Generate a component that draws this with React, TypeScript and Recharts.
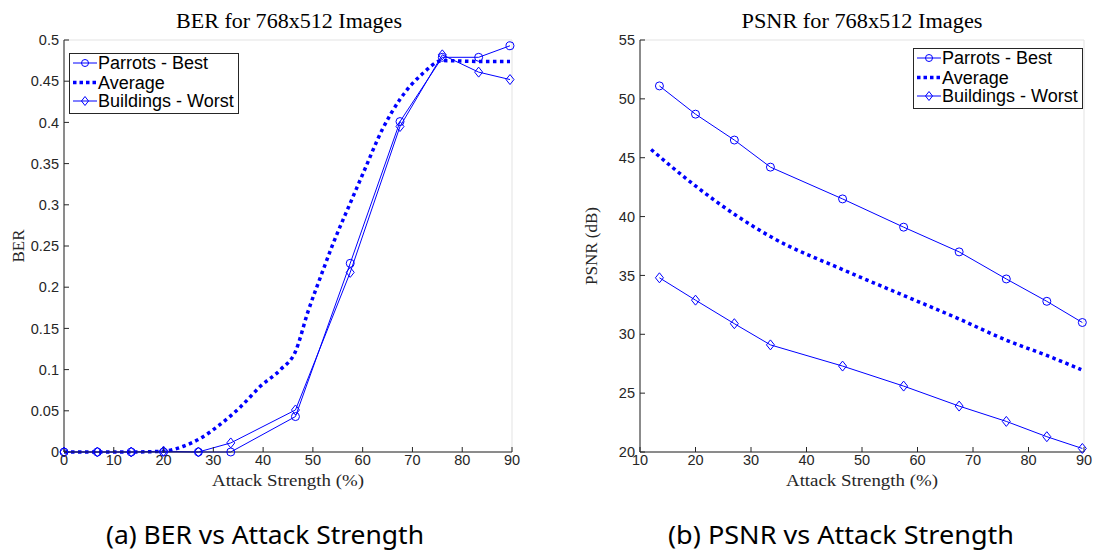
import React from 'react';
import { LineChart, Line, XAxis, YAxis, CartesianGrid, Legend } from 'recharts';

// ---------- data ----------
const berX = [0, 6.7, 13.5, 20, 27, 33.5, 46.5, 57.5, 67.5, 76, 83.3, 89.6];
const berParrots = [0, 0, 0, 0, 0, 0, 0.043, 0.229, 0.401, 0.479, 0.479, 0.493];
const berBuildings = [0, 0, 0, 0.001, 0, 0.011, 0.051, 0.218, 0.395, 0.482, 0.461, 0.452];
const berAvgX = [0, 6.7, 13.5, 20, 24, 27.5, 31.5, 35.5, 39.5, 43.5, 46.5, 49, 52, 54, 57.5, 60, 64, 67.5, 72, 76, 83.3, 89.6];
const berAvg = [0, 0, 0, 0.001, 0.007, 0.017, 0.034, 0.055, 0.08, 0.1, 0.122, 0.17, 0.22, 0.252, 0.302, 0.337, 0.392, 0.428, 0.459, 0.475, 0.474, 0.474];

const psnrX = [13.5, 20, 27, 33.5, 46.5, 57.5, 67.5, 76, 83.3, 89.7];
const psnrParrots = [51.1, 48.7, 46.5, 44.2, 41.5, 39.1, 37.0, 34.7, 32.8, 31.0];
const psnrBuildings = [34.8, 32.9, 30.9, 29.1, 27.3, 25.6, 23.9, 22.6, 21.3, 20.3];
const psnrAvgX = [12, 20, 27, 33.5, 46.5, 57.5, 67.5, 76, 83.3, 89.5];
const psnrAvg = [45.7, 42.6, 40.2, 38.3, 35.5, 33.3, 31.3, 29.5, 28.2, 27.0];

const berXTicks = [0, 10, 20, 30, 40, 50, 60, 70, 80, 90];
const berYTicks = [0, 0.05, 0.1, 0.15, 0.2, 0.25, 0.3, 0.35, 0.4, 0.45, 0.5];
const psnrXTicks = [10, 20, 30, 40, 50, 60, 70, 80, 90];
const psnrYTicks = [20, 25, 30, 35, 40, 45, 50, 55];

const seriesNames = ['Parrots - Best', 'Average', 'Buildings - Worst'];

// ---------- helpers ----------
const BLUE = '#0000ff';
const AXIS = '#262626';
const GRID = '#e3e3e3';

const zip = (xs: number[], ys: number[]) => xs.map((x, i) => ({ x, y: ys[i] }));

const CircleDot = (props: any) => {
  const { cx, cy, index } = props;
  if (cx == null || cy == null) return <g key={`c${index}`} />;
  return <circle key={`c${index}`} cx={cx} cy={cy} r={4} fill="none" stroke={BLUE} strokeWidth={1} />;
};

const DiamondDot = (props: any) => {
  const { cx, cy, index } = props;
  if (cx == null || cy == null) return <g key={`d${index}`} />;
  return (
    <path
      key={`d${index}`}
      d={`M${cx},${cy - 5}L${cx + 4},${cy}L${cx},${cy + 5}L${cx - 4},${cy}Z`}
      fill="none"
      stroke={BLUE}
      strokeWidth={1}
    />
  );
};

const LegendBox = () => {
  const rows = [10, 29.5, 48];
  return (
    <svg width={171} height={62} style={{ display: 'block' }}>
      <rect x={0.5} y={0.5} width={169} height={60} fill="#ffffff" stroke={AXIS} strokeWidth={1} />
      {seriesNames.map((name, i) => {
        const cy = rows[i];
        return (
          <g key={name}>
            {i === 1 ? (
              <line x1={4} x2={28} y1={cy} y2={cy} stroke={BLUE} strokeWidth={3.5} strokeDasharray="3.5 3" />
            ) : (
              <line x1={4} x2={28} y1={cy} y2={cy} stroke={BLUE} strokeWidth={1} />
            )}
            {i === 0 && <circle cx={16} cy={cy} r={3.5} fill="none" stroke={BLUE} />}
            {i === 2 && (
              <path d={`M16,${cy - 4.5}L19.5,${cy}L16,${cy + 4.5}L12.5,${cy}Z`} fill="none" stroke={BLUE} />
            )}
            <text x={29} y={cy + 6} fontFamily="'Liberation Sans', Arial, sans-serif" fontSize={18} fill="#000">
              {name}
            </text>
          </g>
        );
      })}
    </svg>
  );
};

const tickStyle = { fill: AXIS, fontSize: 14.5, fontFamily: "'Liberation Sans', Arial, sans-serif" };
const fmt = (v: number) => String(Number(v.toFixed(2)));

interface PanelProps {
  width: number;
  marginRight: number;
  yAxisWidth: number;
  xDomain: [number, number];
  yDomain: [number, number];
  xTicks: number[];
  yTicks: number[];
  parrots: { x: number; y: number }[];
  avg: { x: number; y: number }[];
  buildings: { x: number; y: number }[];
  legendLeft: number;
  legendTop: number;
}

const Panel = (p: PanelProps) => (
  <LineChart
    width={p.width}
    height={554}
    margin={{ top: 40, right: p.marginRight, bottom: 72, left: 0 }}
  >
    <CartesianGrid stroke={GRID} strokeWidth={1} />
    <XAxis
      xAxisId="0"
      type="number"
      dataKey="x"
      domain={p.xDomain}
      ticks={p.xTicks}
      interval={0}
      allowDecimals
      height={30}
      stroke={AXIS}
      tickSize={-5}
      tickMargin={8}
      tick={tickStyle}
      tickFormatter={fmt}
    />
    <XAxis
      xAxisId="top"
      orientation="top"
      type="number"
      dataKey="x"
      domain={p.xDomain}
      ticks={p.xTicks}
      interval={0}
      height={0}
      stroke={AXIS}
      tickSize={-5}
      tick={false}
    />
    <YAxis
      yAxisId="0"
      type="number"
      domain={p.yDomain}
      ticks={p.yTicks}
      interval={0}
      width={p.yAxisWidth}
      stroke={AXIS}
      tickSize={-5}
      tickMargin={10}
      tick={tickStyle}
      tickFormatter={fmt}
    />
    <YAxis
      yAxisId="right"
      orientation="right"
      type="number"
      domain={p.yDomain}
      ticks={p.yTicks}
      interval={0}
      width={0}
      stroke={AXIS}
      tickSize={-5}
      tick={false}
    />
    <Line
      xAxisId="0"
      yAxisId="0"
      data={p.avg}
      dataKey="y"
      name={seriesNames[1]}
      type="monotone"
      stroke={BLUE}
      strokeWidth={3.5}
      strokeDasharray="3.5 3.5"
      dot={false}
      activeDot={false}
      isAnimationActive={false}
    />
    <Line
      xAxisId="0"
      yAxisId="0"
      data={p.parrots}
      dataKey="y"
      name={seriesNames[0]}
      type="linear"
      stroke={BLUE}
      strokeWidth={1}
      dot={CircleDot}
      activeDot={false}
      isAnimationActive={false}
    />
    <Line
      xAxisId="0"
      yAxisId="0"
      data={p.buildings}
      dataKey="y"
      name={seriesNames[2]}
      type="linear"
      stroke={BLUE}
      strokeWidth={1}
      dot={DiamondDot}
      activeDot={false}
      isAnimationActive={false}
    />
    <Legend
      layout="vertical"
      align="center"
      verticalAlign="middle"
      content={() => <LegendBox />}
      wrapperStyle={{ position: 'absolute', left: p.legendLeft, top: p.legendTop, width: 171, height: 62, margin: 0 }}
    />
  </LineChart>
);

const serif = "'Liberation Serif', 'Times New Roman', serif";
const captionFont = "'Noto Sans', 'Open Sans', sans-serif";

export default function App() {
  return (
    <div style={{ position: 'absolute', left: 0, top: 0, width: 1094, height: 554, background: '#fff', overflow: 'hidden' }}>
      <div style={{ position: 'absolute', left: 0, top: 0 }}>
        <Panel
          width={560}
          marginRight={48}
          yAxisWidth={64}
          xDomain={[0, 90]}
          yDomain={[0, 0.5]}
          xTicks={berXTicks}
          yTicks={berYTicks}
          parrots={zip(berX, berParrots)}
          avg={zip(berAvgX, berAvg)}
          buildings={zip(berX, berBuildings)}
          legendLeft={69}
          legendTop={53}
        />
      </div>
      <div style={{ position: 'absolute', left: 560, top: 0 }}>
        <Panel
          width={534}
          marginRight={10}
          yAxisWidth={80}
          xDomain={[10, 90]}
          yDomain={[20, 55]}
          xTicks={psnrXTicks}
          yTicks={psnrYTicks}
          parrots={zip(psnrX, psnrParrots)}
          avg={zip(psnrAvgX, psnrAvg)}
          buildings={zip(psnrX, psnrBuildings)}
          legendLeft={353}
          legendTop={48}
        />
      </div>
      <svg width={1094} height={554} style={{ position: 'absolute', left: 0, top: 0, pointerEvents: 'none' }}>
        <text x={289} y={28} textAnchor="middle" fontFamily={serif} fontSize={20} fill="#000" textLength={226} lengthAdjust="spacingAndGlyphs">
          BER for 768x512 Images
        </text>
        <text x={862} y={28} textAnchor="middle" fontFamily={serif} fontSize={20} fill="#000" textLength={241} lengthAdjust="spacingAndGlyphs">
          PSNR for 768x512 Images
        </text>
        <text x={288} y={486} textAnchor="middle" fontFamily={serif} fontSize={17} fill={AXIS} textLength={152} lengthAdjust="spacingAndGlyphs">
          Attack Strength (%)
        </text>
        <text x={862} y={486} textAnchor="middle" fontFamily={serif} fontSize={17} fill={AXIS} textLength={152} lengthAdjust="spacingAndGlyphs">
          Attack Strength (%)
        </text>
        <text x={24} y={246} transform="rotate(-90 24 246)" textAnchor="middle" fontFamily={serif} fontSize={17} fill={AXIS}>
          BER
        </text>
        <text x={597} y={246} transform="rotate(-90 597 246)" textAnchor="middle" fontFamily={serif} fontSize={17} fill={AXIS}>
          PSNR (dB)
        </text>
        <text x={265} y={544} textAnchor="middle" fontFamily={captionFont} fontSize={25} fill="#000" textLength={318} lengthAdjust="spacingAndGlyphs">
          (a) BER vs Attack Strength
        </text>
        <text x={841} y={544} textAnchor="middle" fontFamily={captionFont} fontSize={25} fill="#000" textLength={346} lengthAdjust="spacingAndGlyphs">
          (b) PSNR vs Attack Strength
        </text>
      </svg>
    </div>
  );
}
